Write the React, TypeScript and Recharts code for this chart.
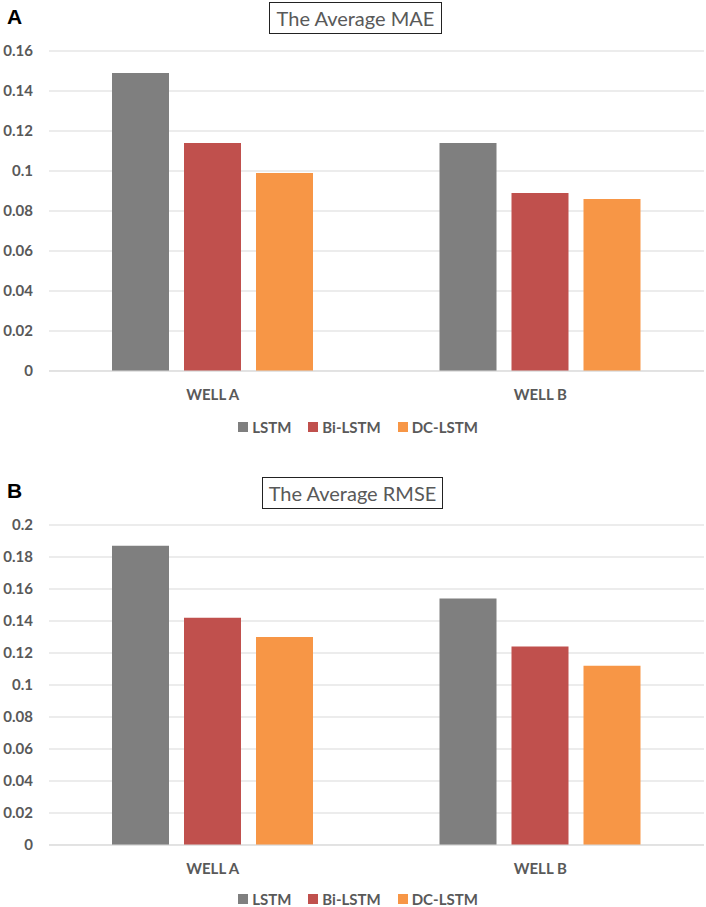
import React from 'react';
import { BarChart, Bar, XAxis, YAxis, CartesianGrid } from 'recharts';

const wells = ['WELL A', 'WELL B'];
const seriesNames = ['LSTM', 'Bi-LSTM', 'DC-LSTM'];
const seriesColors = ['#7F7F7F', '#C0504D', '#F79646'];

const maeLstm = [0.149, 0.114];
const maeBiLstm = [0.114, 0.089];
const maeDcLstm = [0.099, 0.086];
const maeTicks = [0, 0.02, 0.04, 0.06, 0.08, 0.1, 0.12, 0.14, 0.16];

const rmseLstm = [0.187, 0.154];
const rmseBiLstm = [0.142, 0.124];
const rmseDcLstm = [0.13, 0.112];
const rmseTicks = [0, 0.02, 0.04, 0.06, 0.08, 0.1, 0.12, 0.14, 0.16, 0.18, 0.2];

const FONT = 'Lato, "Open Sans", sans-serif';
const TEXT = '#595959';

const maeData = wells.map((w, i) => ({ name: w, s0: maeLstm[i], s1: maeBiLstm[i], s2: maeDcLstm[i] }));
const rmseData = wells.map((w, i) => ({ name: w, s0: rmseLstm[i], s1: rmseBiLstm[i], s2: rmseDcLstm[i] }));

function Legend({ top }: { top: number }) {
    return (
        <div
            style={{
                position: 'absolute',
                top,
                left: 0,
                width: 716,
                display: 'flex',
                justifyContent: 'center',
                gap: 17,
                fontFamily: FONT,
                fontWeight: 700,
                fontSize: 15,
                color: TEXT,
                lineHeight: '18px',
            }}
        >
            {seriesNames.map((n, i) => (
                <div key={n} style={{ display: 'flex', alignItems: 'center' }}>
                    <span style={{ width: 10, height: 10, background: seriesColors[i], marginRight: 4 }} />
                    {n}
                </div>
            ))}
        </div>
    );
}

function Panel({ data, ticks, max, top, plotTop, title, label, titleLeft, titleWidth, titleTop }: any) {
    return (
        <>
            <div
                style={{
                    position: 'absolute',
                    left: 7,
                    top: label.top,
                    fontFamily: '"Liberation Sans", Arial, sans-serif',
                    fontWeight: 700,
                    fontSize: 21,
                    color: '#000',
                }}
            >
                {label.text}
            </div>
            <div
                style={{
                    position: 'absolute',
                    left: titleLeft,
                    top: titleTop,
                    width: titleWidth,
                    height: 30,
                    border: '1px solid #222',
                    fontFamily: FONT,
                    fontSize: 20,
                    color: TEXT,
                    textAlign: 'center',
                    lineHeight: '30px',
                }}
            >
                {title}
            </div>
            <div style={{ position: 'absolute', left: 0, top }}>
                <BarChart
                    width={706}
                    height={plotTop + 320 + 39}
                    data={data}
                    margin={{ top: plotTop, right: 2, left: 0, bottom: 0 }}
                    barSize={57}
                    barGap={15}
                >
                    <CartesianGrid vertical={false} stroke="#D9D9D9" />
                    <XAxis
                        dataKey="name"
                        height={39}
                        tickLine={false}
                        axisLine={{ stroke: '#D9D9D9' }}
                        tickMargin={12}
                        tick={{ fontFamily: FONT, fontWeight: 700, fontSize: 15, fill: TEXT }}
                    />
                    <YAxis
                        width={49}
                        domain={[0, max]}
                        ticks={ticks}
                        interval={0}
                        axisLine={false}
                        tickLine={false}
                        tickMargin={10}
                        tick={{ fontFamily: FONT, fontWeight: 700, fontSize: 15, fill: TEXT }}
                    />
                    {['s0', 's1', 's2'].map((k, i) => (
                        <Bar key={k} dataKey={k} name={seriesNames[i]} fill={seriesColors[i]} isAnimationActive={false} />
                    ))}
                </BarChart>
            </div>
        </>
    );
}

export default function App() {
    return (
        <div style={{ position: 'absolute', left: 0, top: 0, width: 706, height: 907, background: '#fff' }}>
            <Panel
                data={maeData}
                ticks={maeTicks}
                max={0.16}
                top={0}
                plotTop={51}
                title="The Average MAE"
                label={{ text: 'A', top: 5 }}
                titleLeft={269}
                titleWidth={171}
                titleTop={2}
            />
            <Legend top={418} />
            <Panel
                data={rmseData}
                ticks={rmseTicks}
                max={0.2}
                top={460}
                plotTop={65}
                title="The Average RMSE"
                label={{ text: 'B', top: 479 }}
                titleLeft={262}
                titleWidth={179}
                titleTop={477}
            />
            <Legend top={890} />
        </div>
    );
}
